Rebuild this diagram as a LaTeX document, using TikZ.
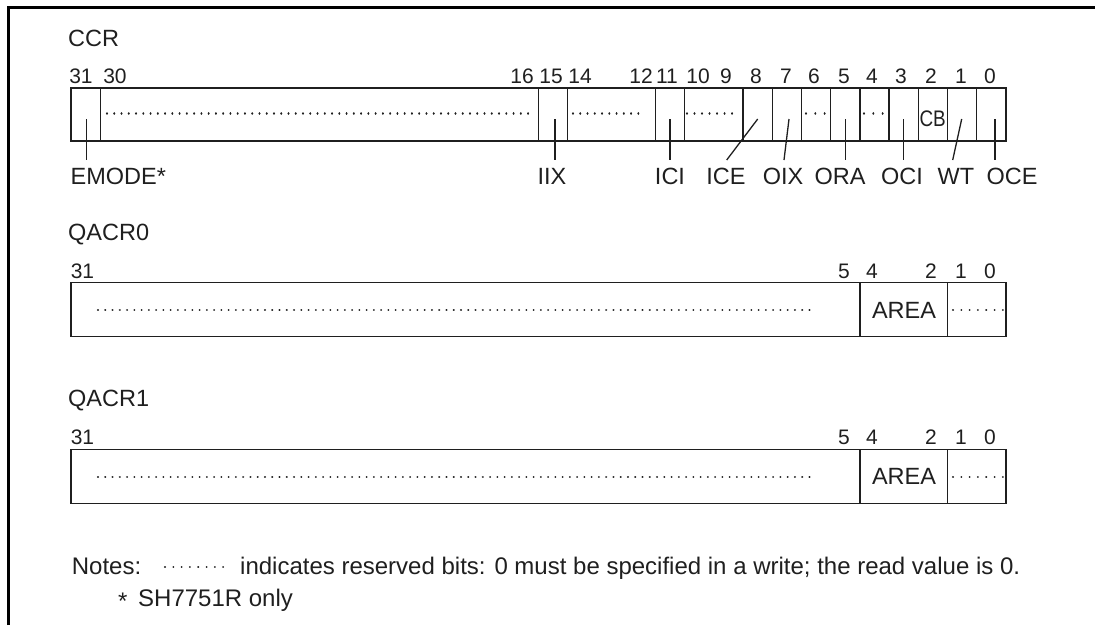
\documentclass[tikz,border=0pt]{standalone}
\usepackage{fontspec}
\setmainfont{Liberation Sans}
\usepackage{graphicx}
\definecolor{ink}{gray}{0.12}
\newcommand\labfont{\fontsize{23.5}{27}\selectfont}
\newcommand\digfont{\fontsize{21}{24}\selectfont}
\newcommand\notefont{\fontsize{24}{28}\selectfont}
\begin{document}
\begin{tikzpicture}[x=1pt,y=-1pt,
  cell/.style={draw=ink,line width=1.3pt},
  dotrow/.style={draw=ink,line width=2.1pt,line cap=round,dash pattern=on 0.01pt off #1},
  dotrow/.default=7.25pt,
  leader/.style={draw=ink,line width=1.3pt},
  bitnum/.style={anchor=base,inner sep=0pt,font=\digfont,text=ink},
  lab/.style={anchor=base,inner sep=0pt,font=\labfont,text=ink},
  frame/.style={draw=black,line width=2.2pt}]
\useasboundingbox (0,0) rectangle (1095,625);
% outer frame (top and left edges)
\draw[frame] (8.5,625) -- (8.5,7.5) -- (1095,7.5);

% ---------------- CCR ----------------
\node[lab,anchor=base west] (ccr) at (68,46.7) {CCR};
\foreach \b/\x in {31/81,30/115,16/522,15/551,14/580,12/641,11/667,10/698,9/726,8/756,7/786,6/814,5/844,4/872,3/901,2/931,1/961,0/990}
  \node[bitnum] (ccr-b\b) at (\x,83.3) {\b};
\draw[cell] (71,88) rectangle (1006,141);
\foreach \i in {1,16,17,20,21,23,24,25,26,27,28,29,30,31}
  \draw[cell] ({71+\i*29.21875},88) -- ({71+\i*29.21875},141);
% reserved dots
\draw[dotrow] (107,113.5) -- (529,113.5);
\draw[dotrow] (573,113.5) -- (641,113.5);
\draw[dotrow=7.5pt] (687,113.5) -- (738,113.5);
\draw[dotrow=9.3pt] (806,113.5) -- (825,113.5);
\draw[dotrow=9.3pt] (864,113.5) -- (883,113.5);
\node[anchor=base west,inner sep=0pt,font=\fontsize{22.5}{26}\selectfont,text=ink] (cb) at (919.3,126) {\scalebox{0.84}[1]{CB}};
% field labels
\node[lab,anchor=base west] (emode) at (70.5,184.3) {EMODE*};
\node[lab] (iix) at (552,184.3) {IIX};
\node[lab] (ici) at (670,184.3) {ICI};
\node[lab] (ice) at (726,184.3) {ICE};
\node[lab] (oix) at (783,184.3) {OIX};
\node[lab] (ora) at (840,184.3) {ORA};
\node[lab] (oci) at (902,184.3) {OCI};
\node[lab] (wt) at (956,184.3) {WT};
\node[lab] (oce) at (1012,184.3) {OCE};
% leader lines
\foreach \n/\xa/\xb in {emode/86.7/86.7,iix/555/555,ici/670/670,ice/757.7/726.7,oix/789/784,ora/845.7/845.7,oci/903.7/903.7,wt/961.7/952.7,oce/995/995}{
  \coordinate (\n-in) at (\xa,119);
  \coordinate (\n-out) at (\xb,160);
  \draw[leader] (\n-in) -- (\n-out);
}

% ---------------- QACR0 / QACR1 ----------------
\foreach \r/\dy in {0/0,1/166.6}{
  \node[lab,anchor=base west] (qacr\r) at (68,240+\dy) {QACR\r};
  \node[bitnum] (q\r-b31) at (82.5,278+\dy) {31};
  \foreach \b/\x in {5/844,4/872,2/931,1/961,0/990}
    \node[bitnum] (q\r-b\b) at (\x,278+\dy) {\b};
  \draw[cell] (71,282.7+\dy) rectangle (1006,336.7+\dy);
  \draw[cell] (860,282.7+\dy) -- (860,336.7+\dy);
  \draw[cell] (947.6,282.7+\dy) -- (947.6,336.7+\dy);
  \draw[dotrow] (98,310+\dy) -- (816,310+\dy);
  \draw[dotrow=8.3pt] (953,310+\dy) -- (1003.5,310+\dy);
  \node[lab] (q\r-area) at (904,318.3+\dy) {AREA};
}

% ---------------- Notes ----------------
\node[anchor=base west,inner sep=0pt,font=\notefont,text=ink] (notes) at (71.7,574) {Notes:};
\draw[dotrow=8.3pt] (165,566.7) -- (224,566.7);
\node[anchor=base west,inner sep=0pt,font=\notefont,text=ink] (notetext) at (240,574) {indicates reserved bits: 0 must be specified in a write; the read value is 0.};
\node[anchor=base west,inner sep=0pt,font=\notefont,text=ink] (star) at (118,609) {*};
\node[anchor=base west,inner sep=0pt,font=\notefont,text=ink] (note2) at (138,606) {SH7751R only};
\end{tikzpicture}
\end{document}
